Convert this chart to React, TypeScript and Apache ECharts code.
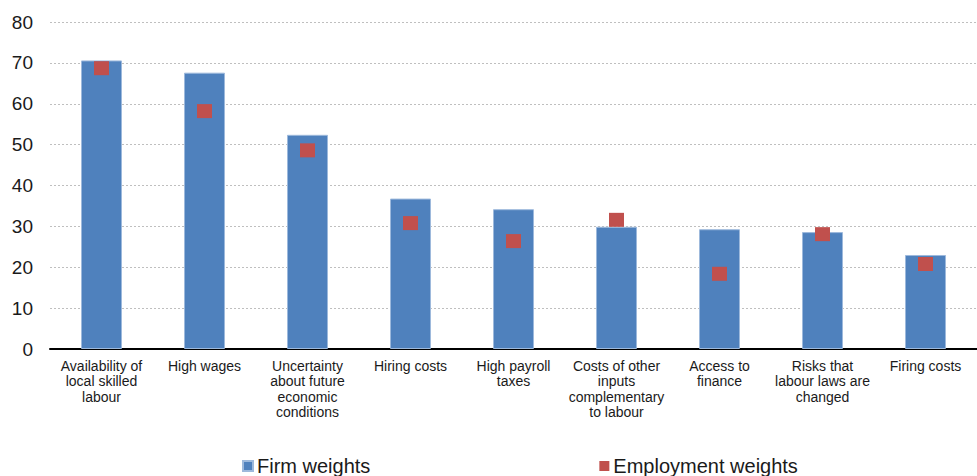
import React, { useEffect, useRef } from "react";
import * as echarts from "echarts";

const categories = [
  "Availability of\nlocal skilled\nlabour",
  "High wages",
  "Uncertainty\nabout future\neconomic\nconditions",
  "Hiring costs",
  "High payroll\ntaxes",
  "Costs of other\ninputs\ncomplementary\nto labour",
  "Access to\nfinance",
  "Risks that\nlabour laws are\nchanged",
  "Firing costs",
];
const firmWeights = [70.6, 67.6, 52.4, 36.8, 34.2, 29.9, 29.3, 28.6, 23.0];
const employmentWeights = [68.7, 58.2, 48.6, 30.8, 26.4, 31.6, 18.4, 28.1, 20.8];
const seriesNames = ["Firm weights", "Employment weights"];

const FONT = "'Liberation Sans', Arial, sans-serif";

export default function App() {
  const ref = useRef<HTMLDivElement>(null);
  useEffect(() => {
    if (!ref.current) return;
    const chart = echarts.init(ref.current, null, { renderer: "svg" });
    chart.setOption({
      animation: false,
      backgroundColor: "#ffffff",
      textStyle: { fontFamily: FONT },
      grid: { left: 50, top: 22, width: 937, height: 327, containLabel: false },
      legend: {
        data: [
          { name: seriesNames[0], icon: "rect" },
          { name: seriesNames[1], icon: "rect" },
        ],
        left: 237,
        top: 451,
        itemWidth: 10,
        itemHeight: 10,
        itemGap: 229,
        textStyle: { fontSize: 20, color: "#1a1a1a", fontFamily: FONT, padding: [0, 0, 0, -1] },
      },
      xAxis: {
        type: "category",
        data: categories,
        axisTick: { show: false },
        axisLine: { show: true, lineStyle: { color: "#000000", width: 2 } },
        axisLabel: {
          interval: 0,
          fontSize: 14,
          lineHeight: 15.5,
          color: "#1a1a1a",
          margin: 9,
          fontFamily: FONT,
          align: "center",
        },
      },
      yAxis: {
        type: "value",
        min: 0,
        max: 80,
        interval: 10,
        axisLine: { show: false },
        axisTick: { show: false },
        axisLabel: { fontSize: 19, color: "#1a1a1a", margin: 17, fontFamily: FONT },
        splitLine: {
          show: true,
          lineStyle: { color: "#BFBFBF", type: [2, 2], width: 1 },
        },
      },
      series: [
        {
          name: seriesNames[0],
          type: "bar",
          data: firmWeights,
          barWidth: 41,
          itemStyle: { color: "#4F81BD", borderColor: "#9DB9DC", borderWidth: 1 },
          z: 2,
        },
        {
          name: seriesNames[1],
          type: "scatter",
          data: employmentWeights,
          symbol: "rect",
          symbolSize: [15, 14],
          itemStyle: { color: "#C0504D", opacity: 1 },
          z: 3,
        },
      ],
    });
    return () => chart.dispose();
  }, []);
  return (
    <div
      ref={ref}
      style={{ position: "fixed", left: 0, top: 0, width: 977, height: 476 }}
    />
  );
}
